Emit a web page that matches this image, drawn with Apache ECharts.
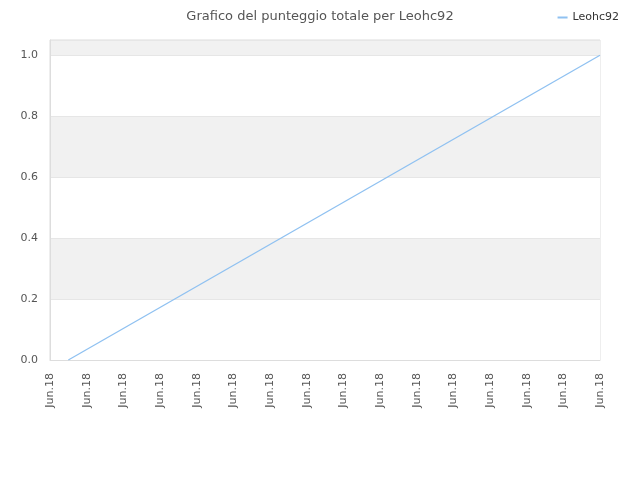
<!DOCTYPE html>
<html>
<head>
<meta charset="utf-8">
<script src="https://cdn.jsdelivr.net/npm/echarts@6/dist/echarts.min.js"></script>
<style>
  html, body { margin: 0; padding: 0; background: #fff; }
  #chart { width: 640px; height: 480px; }
</style>
</head>
<body>
<div id="chart"></div>
<script>
// categorie (giorni), etichette ogni due
const categories = ['Jun.18', 'Jun.18', 'Jun.18', 'Jun.18', 'Jun.18', 'Jun.18', 'Jun.18', 'Jun.18',
  'Jun.18', 'Jun.18', 'Jun.18', 'Jun.18', 'Jun.18', 'Jun.18', 'Jun.18', 'Jun.18',
  'Jun.18', 'Jun.18', 'Jun.18', 'Jun.18', 'Jun.18', 'Jun.18', 'Jun.18', 'Jun.18',
  'Jun.18', 'Jun.18', 'Jun.18', 'Jun.18', 'Jun.18', 'Jun.18', 'Jun.18'];
// punteggio totale: solo primo e ultimo valore noti
const scores = [null, 0, null, null, null, null, null, null, null, null,
  null, null, null, null, null, null, null, null, null, null,
  null, null, null, null, null, null, null, null, null, null, 1];
const seriesName = 'Leohc92';

const chart = echarts.init(document.getElementById('chart'));
const font = 'DejaVu Sans';

chart.setOption({
  animation: false,
  backgroundColor: '#fff',
  title: {
    text: 'Grafico del punteggio totale per Leohc92',
    left: 'center',
    top: 5,
    textStyle: { fontFamily: font, fontSize: 13, fontWeight: 'normal', color: '#555' }
  },
  legend: {
    data: [seriesName],
    right: 16,
    top: 7,
    itemWidth: 10,
    itemHeight: 2,
    itemGap: 10,
    icon: 'rect',
    textStyle: { fontFamily: font, fontSize: 11, color: '#333' }
  },
  grid: { left: 50, right: 40, top: 40, bottom: 120, show: true, borderColor: '#ddd', borderWidth: 1 },
  xAxis: {
    type: 'category',
    data: categories,
    boundaryGap: false,
    axisLine: { lineStyle: { color: '#ddd' } },
    axisTick: { show: false },
    axisLabel: { interval: 1, rotate: 90, margin: 13, fontFamily: font, fontSize: 11, color: '#555' },
    splitLine: { show: false }
  },
  yAxis: {
    type: 'value',
    min: 0,
    max: 1.05,
    interval: 0.2,
    axisLine: { show: true, lineStyle: { color: '#ddd' } },
    axisTick: { show: false },
    axisLabel: {
      showMaxLabel: false,
      margin: 12,
      fontFamily: font, fontSize: 11, color: '#555',
      formatter: v => v.toFixed(1)
    },
    splitLine: { show: true, lineStyle: { color: '#e6e6e6' } },
    splitArea: { show: true, areaStyle: { color: ['#ffffff', '#f1f1f1'] } }
  },
  series: [{
    name: seriesName,
    type: 'line',
    data: scores,
    connectNulls: true,
    symbol: 'none',
    lineStyle: { width: 1.3, color: '#8fc1f1' },
    itemStyle: { color: '#8fc1f1' }
  }]
});
</script>
</body>
</html>
